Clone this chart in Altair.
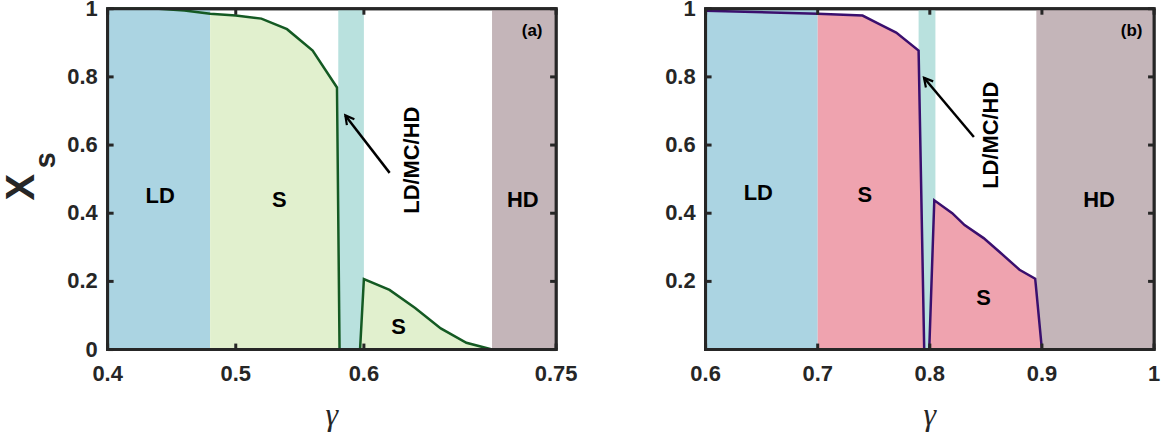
import altair as alt
import pandas as pd

# ---------------- data: panel (a) ----------------
gamma_a = [0.40, 0.42, 0.44, 0.46, 0.48, 0.50, 0.52, 0.54, 0.56, 0.579, 0.581,
           0.597, 0.600, 0.62, 0.64, 0.66, 0.68, 0.70]
xs_a = [1.0, 1.0, 1.0, 0.995, 0.985, 0.98, 0.971, 0.94, 0.877, 0.769, 0.0,
        0.0, 0.207, 0.175, 0.122, 0.062, 0.02, 0.0]
band_lo_a = [0.40, 0.58, 0.70]
band_hi_a = [0.48, 0.60, 0.75]
xticks_a = [0.4, 0.5, 0.6, 0.75]
yticks_a = [0, 0.2, 0.4, 0.6, 0.8, 1]
lab_text_a = ["LD", "S", "S", "HD"]
lab_x_a = [0.441, 0.534, 0.627, 0.724]
lab_y_a = [0.449, 0.44, 0.066, 0.44]

# ---------------- data: panel (b) ----------------
gamma_b = [0.60, 0.70, 0.74, 0.755, 0.77, 0.79, 0.795, 0.7995, 0.804, 0.82,
           0.831, 0.848, 0.862, 0.88, 0.894, 0.90]
xs_b = [0.994, 0.985, 0.98, 0.955, 0.93, 0.877, 0.0, 0.0, 0.438, 0.40,
        0.365, 0.327, 0.287, 0.234, 0.208, 0.0]
band_lo_b = [0.60, 0.79, 0.895]
band_hi_b = [0.70, 0.805, 1.0]
xticks_b = [0.6, 0.7, 0.8, 0.9, 1]
yticks_b = [0.2, 0.4, 0.6, 0.8, 1]
lab_text_b = ["LD", "S", "S", "HD"]
lab_x_b = [0.647, 0.742, 0.848, 0.951]
lab_y_b = [0.458, 0.453, 0.151, 0.44]

BLUE = "#ABD4E2"
CYAN = "#B9E1DE"
BROWN = "#C4B5B9"
GREEN_FILL = "#E1F0CE"
PINK_FILL = "#EFA3AF"
GREEN_LINE = "#145A23"
PURPLE_LINE = "#3A0F6E"
FRAME = "#262626"
FONT = "Liberation Sans"

W, H = 450, 342
TL = 6  # tick length (px)


def panel(gamma, xs, area_from, blo, bhi, fill_col, line_col, xdom, xticks,
          yticks, lab_text, lab_x, lab_y, tag, tag_xy, rot_xy, arrow,
          arrow_angle, ytitle):
    xsc = alt.Scale(domain=xdom, nice=False, zero=False)
    ysc = alt.Scale(domain=[0, 1], nice=False, zero=False)
    X = lambda f: alt.X(f, scale=xsc, axis=None)
    Y = lambda f: alt.Y(f, scale=ysc, axis=None)

    bands = pd.DataFrame({"lo": blo, "hi": bhi,
                          "col": [BLUE, CYAN, BROWN],
                          "y0": [0, 0, 0], "y1": [1, 1, 1]})
    curve = pd.DataFrame({"g": gamma, "x": xs, "i": range(len(gamma))})
    fill = curve[curve["g"] >= area_from]

    l_bands = alt.Chart(bands).mark_rect().encode(
        x=X("lo:Q"), x2="hi:Q", y=Y("y0:Q"), y2="y1:Q",
        color=alt.Color("col:N", scale=None))
    l_area = alt.Chart(fill).mark_area(color=fill_col, opacity=1,
                                       strokeWidth=0).encode(
        x=X("g:Q"), y=Y("x:Q"))
    l_line = alt.Chart(curve).mark_line(color=line_col, strokeWidth=2.5).encode(
        x=X("g:Q"), y=Y("x:Q"), order="i:Q")

    # frame (thin rectangles along the domain limits)
    fr_h = pd.DataFrame({"hx0": [xdom[0], xdom[0]], "hx1": [xdom[1], xdom[1]],
                         "hy": [0, 1]})
    fr_v = pd.DataFrame({"vx": [xdom[0], xdom[1]], "vy0": [0, 0],
                         "vy1": [1, 1]})
    l_fh = alt.Chart(fr_h).mark_rect(
        color=FRAME, yOffset=1.5, y2Offset=-1.5, xOffset=-1.5,
        x2Offset=1.5).encode(
        x=X("hx0:Q"), x2="hx1:Q", y=Y("hy:Q"), y2="hy:Q")
    l_fv = alt.Chart(fr_v).mark_rect(
        color=FRAME, xOffset=-1.5, x2Offset=1.5).encode(
        x=X("vx:Q"), x2="vx:Q", y=Y("vy0:Q"), y2="vy1:Q")

    # inward ticks on all four sides (thin rectangles)
    xt = pd.DataFrame({"tv": xticks})
    yt = pd.DataFrame({"tv": yticks})
    l_tb = alt.Chart(xt).mark_rect(color=FRAME, xOffset=-1.5,
                                   x2Offset=1.5).encode(
        x=X("tv:Q"), x2="tv:Q", y=alt.value(H), y2=alt.value(H - TL))
    l_tt = alt.Chart(xt).mark_rect(color=FRAME, xOffset=-1.5,
                                   x2Offset=1.5).encode(
        x=X("tv:Q"), x2="tv:Q", y=alt.value(0), y2=alt.value(TL))
    l_tl = alt.Chart(yt).mark_rect(color=FRAME, yOffset=-1.5,
                                   y2Offset=1.5).encode(
        y=Y("tv:Q"), y2="tv:Q", x=alt.value(0), x2=alt.value(TL))
    l_tr = alt.Chart(yt).mark_rect(color=FRAME, yOffset=-1.5,
                                   y2Offset=1.5).encode(
        y=Y("tv:Q"), y2="tv:Q", x=alt.value(W - TL), x2=alt.value(W))

    labs = pd.DataFrame({"t": lab_text, "gx": lab_x, "gy": lab_y})
    l_labs = alt.Chart(labs).mark_text(font=FONT, fontSize=22,
                                        fontWeight="bold", color="black",
                                        baseline="middle", align="center").encode(
        x=X("gx:Q"), y=Y("gy:Q"), text="t:N")
    tagdf = pd.DataFrame({"t": [tag], "gx": [tag_xy[0]], "gy": [tag_xy[1]]})
    l_tag = alt.Chart(tagdf).mark_text(font=FONT, fontSize=17,
                                        fontWeight="bold", color="black",
                                        baseline="middle", align="center").encode(
        x=X("gx:Q"), y=Y("gy:Q"), text="t:N")
    rotdf = pd.DataFrame({"t": ["LD/MC/HD"], "gx": [rot_xy[0]], "gy": [rot_xy[1]]})
    l_rot = alt.Chart(rotdf).mark_text(font=FONT, fontSize=22,
                                        fontWeight="bold", color="black",
                                        angle=270, baseline="middle",
                                        align="center").encode(
        x=X("gx:Q"), y=Y("gy:Q"), text="t:N")
    arrdf = pd.DataFrame({"ax0": [arrow[0]], "ay0": [arrow[1]],
                          "ax1": [arrow[2]], "ay1": [arrow[3]]})
    l_shaft = alt.Chart(arrdf).mark_rule(color="black", strokeWidth=2.5).encode(
        x=X("ax0:Q"), y=Y("ay0:Q"), x2="ax1:Q", y2="ay1:Q")
    l_head = alt.Chart(arrdf).mark_point(
        shape="M -0.55 1 L 0 0 L 0.55 1", filled=False, color="black",
        strokeWidth=2.2, size=300, angle=arrow_angle, opacity=1).encode(
        x=X("ax1:Q"), y=Y("ay1:Q"))

    # tick labels (text from the tick arrays)
    xl = pd.DataFrame({"lv": xticks, "lab": [f"{v:g}" for v in xticks]})
    yl = pd.DataFrame({"lv": yticks, "lab": [f"{v:g}" for v in yticks]})
    lab_style = dict(font=FONT, fontSize=22, fontWeight="bold", color=FRAME)
    l_xlab = alt.Chart(xl).mark_text(baseline="middle", align="center",
                                     **lab_style).encode(
        x=X("lv:Q"), y=alt.value(H + 25), text="lab:N")
    l_ylab = alt.Chart(yl).mark_text(baseline="middle", align="right",
                                     **lab_style).encode(
        y=Y("lv:Q"), x=alt.value(-10), text="lab:N")
    l_xtitle = alt.Chart(pd.DataFrame({"t": ["γ"]})).mark_text(
        font="Liberation Serif", fontStyle="italic", fontSize=32,
        color=FRAME, baseline="middle", align="center").encode(
        x=alt.value(W / 2), y=alt.value(H + 66), text="t:N")

    layers = [l_bands, l_area, l_line, l_fh, l_fv, l_tb, l_tt, l_tl, l_tr,
              l_labs, l_tag, l_rot, l_shaft, l_head, l_xlab, l_ylab, l_xtitle]
    if ytitle:
        tx = alt.Chart(pd.DataFrame({"t": ["X"]})).mark_text(
            font=FONT, fontSize=40, fontWeight="bold", color=FRAME, angle=270,
            align="center", baseline="middle").encode(
            x=alt.value(-85.5), y=alt.value(179), text="t:N")
        ts = alt.Chart(pd.DataFrame({"t": ["s"]})).mark_text(
            font=FONT, fontSize=29, fontWeight="bold", color=FRAME, angle=270,
            align="center", baseline="middle").encode(
            x=alt.value(-61.5), y=alt.value(152), text="t:N")
        layers += [tx, ts]
    return alt.layer(*layers).properties(width=W, height=H)


pa = panel(gamma_a, xs_a, 0.48, band_lo_a, band_hi_a, GREEN_FILL, GREEN_LINE,
           [0.4, 0.75], xticks_a, yticks_a, lab_text_a, lab_x_a, lab_y_a,
           "(a)", (0.7313, 0.936), (0.6372, 0.5556),
           (0.6201, 0.5184, 0.5855, 0.687), 322, True)
pb = panel(gamma_b, xs_b, 0.70, band_lo_b, band_hi_b, PINK_FILL, PURPLE_LINE,
           [0.6, 1.0], xticks_b, yticks_b, lab_text_b, lab_x_b, lab_y_b,
           "(b)", (0.98, 0.936), (0.8547, 0.6287),
           (0.8393, 0.6237, 0.7948, 0.7973), 320, False)

chart = alt.hconcat(pa, pb, spacing=150, bounds="flush").properties(
    padding={"left": 1, "top": -5, "right": 5, "bottom": 5},
    background="white",
).configure_view(stroke=FRAME, strokeWidth=3)

chart.save("out.html", embed_options={"renderer": "svg", "actions": False})
